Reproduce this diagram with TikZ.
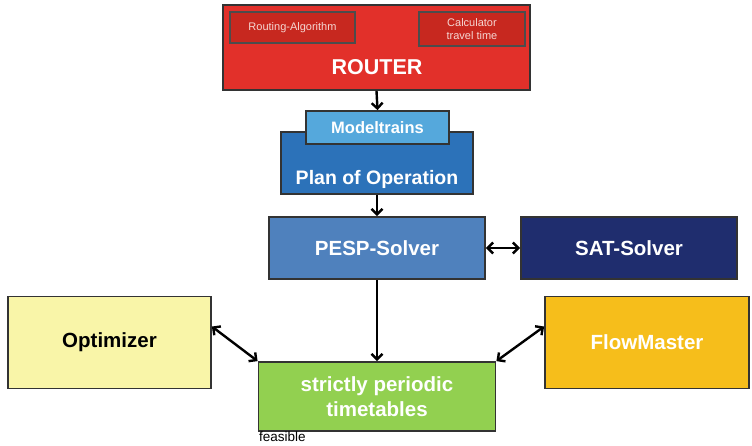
\documentclass[tikz,border=0pt]{standalone}
\usepackage{fontspec}
\setmainfont{Liberation Sans}
\usetikzlibrary{arrows.meta}
\definecolor{bordergray}{HTML}{333333}
\definecolor{routerred}{HTML}{E2302A}
\definecolor{innerred}{HTML}{C7281F}
\definecolor{innertext}{HTML}{F5D6D2}
\definecolor{modelblue}{HTML}{55A8DC}
\definecolor{planblue}{HTML}{2C72B9}
\definecolor{pespblue}{HTML}{4F81BD}
\definecolor{satblue}{HTML}{1F2D6E}
\definecolor{optyellow}{HTML}{F9F5A8}
\definecolor{floworange}{HTML}{F6BE1B}
\definecolor{tgreen}{HTML}{92D050}
\begin{document}
\begin{tikzpicture}[x=1pt,y=-1pt,
  box/.style={draw=bordergray, line width=1.8pt, inner sep=0pt, align=center,
              font=\fontsize{20.5}{25}\selectfont\bfseries, text=white},
  inner/.style={draw=black!70, line width=1.1pt, fill=innerred, inner sep=0pt, align=center,
              font=\fontsize{11}{13}\selectfont, text=innertext},
  arr/.style={line width=2.4pt, -{Straight Barb[length=5.5pt,width=11pt,line width=2.4pt]}},
  dbl/.style={line width=2.4pt, {Straight Barb[length=5.5pt,width=11pt,line width=2.4pt]}-{Straight Barb[length=5.5pt,width=11pt,line width=2.4pt]}}
]
\useasboundingbox (0,0) rectangle (752,445);

% ROUTER
\node[box, fill=routerred, minimum width=307pt, minimum height=85pt] (router) at (376.5,47.5) {};
\node[inner, minimum width=125pt, minimum height=31pt] (ralg) at (292.5,27.5) {Routing-Algorithm};
\node[inner, minimum width=106pt, minimum height=34pt] (calc) at (472,29) {Calculator\\travel time};
\node[font=\fontsize{21.5}{25}\selectfont\bfseries, text=white, inner sep=0pt] (routerlbl) at (377,67) {ROUTER};

% Plan of operation
\node[box, fill=planblue, minimum width=192pt, minimum height=62pt] (plan) at (377,163) {};
\node[font=\fontsize{19.5}{23}\selectfont\bfseries, text=white, inner sep=0pt] (planlbl) at (377,179) {Plan of Operation};
\node[box, fill=modelblue, minimum width=143pt, minimum height=33pt,
      font=\fontsize{16.5}{19}\selectfont\bfseries] (model) at (377.5,127.5) {Modeltrains};

% Solvers
\node[box, fill=pespblue, minimum width=216pt, minimum height=62pt] (pesp) at (377,248) {PESP-Solver};
\node[box, fill=satblue, minimum width=216pt, minimum height=62pt] (sat) at (629,248) {SAT-Solver};

% Bottom row
\node[box, fill=optyellow, text=black, minimum width=203pt, minimum height=92pt] (opt) at (109.5,342.5) {Optimizer};
\node[box, fill=floworange, minimum width=204pt, minimum height=92pt] (flow) at (647,342.5) {FlowMaster};
\node[box, fill=tgreen, minimum width=237pt, minimum height=69pt] (green) at (377,396.5) {strictly periodic\\timetables};
\node[font=\fontsize{13.5}{15}\selectfont, text=black, anchor=north west, inner sep=0pt] (feas) at (259,432) {feasible};

% Connectors
\draw[arr] (router.south) -- (model.north);
\draw[arr] (plan.south) -- (pesp.north);
\draw[dbl] (pesp.east) -- (sat.west);
\draw[arr] (pesp.south) -- (green.north);
\draw[dbl] ([yshift=16pt]opt.east) -- (green.north west);
\draw[dbl] ([yshift=16pt]flow.west) -- (green.north east);
\end{tikzpicture}
\end{document}
